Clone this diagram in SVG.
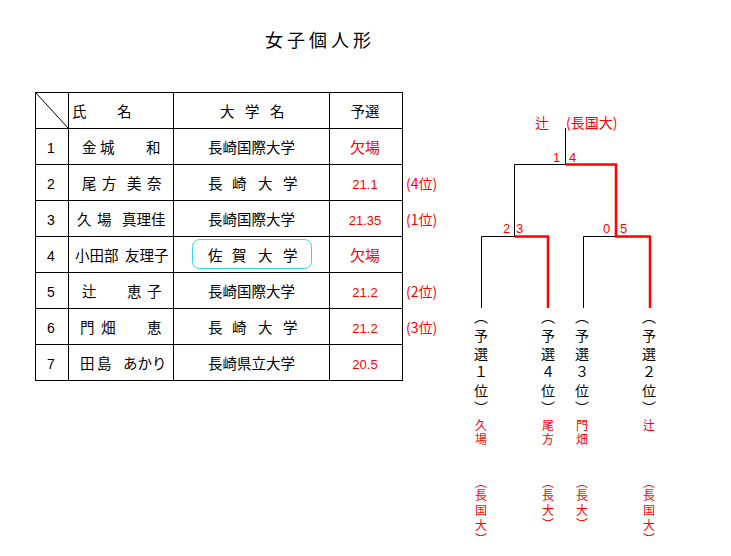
<svg xmlns="http://www.w3.org/2000/svg" width="731" height="556" viewBox="0 0 731 556">
<style>
.j{font-family:"Noto Sans CJK JP","Noto Sans CJK SC",sans-serif;font-size:14.5px;fill:#000}
.n{font-family:"Liberation Sans",Arial,sans-serif;font-size:14px;fill:#000;text-anchor:middle}
.s{font-family:"Liberation Sans",Arial,sans-serif;font-size:13px;fill:#f00;text-anchor:middle}
.r{fill:#f00}
.m{text-anchor:middle}
.grid line{stroke:#000;stroke-width:1}
.b{stroke:#000;stroke-width:1;fill:none}
.w{stroke:#f00;stroke-width:2.5;fill:none}
.v{font-family:"Noto Sans CJK JP","Noto Sans CJK SC",sans-serif;font-size:14px;text-anchor:middle}
.vr{font-family:"Noto Sans CJK JP","Noto Sans CJK SC",sans-serif;font-size:12px;text-anchor:middle;fill:#f00}
.bn{font-family:"Liberation Sans",Arial,sans-serif;font-size:13px;fill:#f00}
</style>
<rect width="731" height="556" fill="#fff"/>
<text id="title" class="j" x="265" y="47" style="font-size:18px;letter-spacing:4px">女子個人形</text>

<g id="table">
<g class="grid" shape-rendering="crispEdges">
<line x1="35" y1="92.5" x2="403" y2="92.5"/>
<line x1="35" y1="128.5" x2="403" y2="128.5"/>
<line x1="35" y1="164.5" x2="403" y2="164.5"/>
<line x1="35" y1="200.5" x2="403" y2="200.5"/>
<line x1="35" y1="236.5" x2="403" y2="236.5"/>
<line x1="35" y1="272.5" x2="403" y2="272.5"/>
<line x1="35" y1="308.5" x2="403" y2="308.5"/>
<line x1="35" y1="344.5" x2="403" y2="344.5"/>
<line x1="35" y1="380.5" x2="403" y2="380.5"/>
<line x1="35.5" y1="92" x2="35.5" y2="381"/>
<line x1="68.5" y1="92" x2="68.5" y2="381"/>
<line x1="173.5" y1="92" x2="173.5" y2="381"/>
<line x1="329.5" y1="92" x2="329.5" y2="381"/>
<line x1="402.5" y1="92" x2="402.5" y2="381"/>
</g>
<line x1="36" y1="93" x2="68" y2="128" stroke="#000" stroke-width="1"/>
<g id="header">
<text class="j" x="72 117" y="116.5">氏名</text>
<text class="j" x="220 245 270" y="116.5">大学名</text>
<text class="j m" x="365" y="116.5">予選</text>
</g>
<g id="row1">
<text class="n" x="51" y="152.5">1</text>
<text class="j" x="82 100 146" y="153">金城和</text>
<text class="j" x="208" y="153">長崎国際大学</text>
<text class="j m r" x="365" y="152.5" style="font-size:15px">欠場</text>
</g>
<g id="row2">
<text class="n" x="51" y="188.5">2</text>
<text class="j" x="82 102 127 147" y="189">尾方美奈</text>
<text class="j" x="208 232 258 283" y="189">長崎大学</text>
<text class="s" x="365" y="188.5">21.1</text>
<text class="j r" x="406" y="189" style="font-size:14px">(4位)</text>
</g>
<g id="row3">
<text class="n" x="51" y="224.5">3</text>
<text class="j" x="77 97 122" y="225">久場真理佳</text>
<text class="j" x="208" y="225">長崎国際大学</text>
<text class="s" x="365" y="224.5">21.35</text>
<text class="j r" x="406" y="225" style="font-size:14px">(1位)</text>
</g>
<g id="row4">
<text class="n" x="51" y="260.5">4</text>
<text class="j" x="75 89.5 104 125 139.5 154" y="261">小田部友理子</text>
<rect x="192.5" y="239.5" width="119" height="29" rx="7" fill="none" stroke="#2fd8ec" stroke-width="1"/>
<text class="j" x="208 232 258 283" y="261">佐賀大学</text>
<text class="j m r" x="365" y="260.5" style="font-size:15px">欠場</text>
</g>
<g id="row5">
<text class="n" x="51" y="296.5">5</text>
<text class="j" x="82 127 147" y="297">辻恵子</text>
<text class="j" x="208" y="297">長崎国際大学</text>
<text class="s" x="365" y="296.5">21.2</text>
<text class="j r" x="406" y="297" style="font-size:14px">(2位)</text>
</g>
<g id="row6">
<text class="n" x="51" y="332.5">6</text>
<text class="j" x="80 101 147" y="333">門畑恵</text>
<text class="j" x="208 232 258 283" y="333">長崎大学</text>
<text class="s" x="365" y="332.5">21.2</text>
<text class="j r" x="406" y="333" style="font-size:14px">(3位)</text>
</g>
<g id="row7">
<text class="n" x="51" y="368.5">7</text>
<text class="j" x="80 97 123" y="369">田島あかり</text>
<text class="j" x="208" y="369">長崎県立大学</text>
<text class="s" x="365" y="368.5">20.5</text>
</g>
</g>

<g id="connectors">
<path class="b" d="M565.5 128V164.5H514.5V236.5H481.5V308"/>
<path class="b" d="M514.5 236.5V220"/>
<path class="b" d="M616 236.5H583.5V308"/>
<path class="w" d="M565.5 164.5H616V236.5H650V308"/>
<path class="w" d="M514.5 236.5H548V308"/>
</g>
<g id="scores">
<text class="bn" x="553" y="161.5">1</text>
<text class="bn" x="569" y="161.5">4</text>
<text class="bn" x="503" y="232.5">2</text>
<text class="bn" x="516" y="232.5">3</text>
<text class="bn" x="603" y="232.5">0</text>
<text class="bn" x="620" y="232.5">5</text>
</g>
<g id="winner">
<text class="j r" x="535" y="127.5" style="font-size:14px">辻</text>
<text class="j r" x="566" y="127.5" style="font-size:14px">(長国大)</text>
</g>

<g id="entry1">
<text class="v" x="481 481 481 481 481 481" y="322 340.5 359 377 395.5 413">︵予選１位︶</text>
<text class="vr" x="481 481" y="429.5 443.5">久場</text>
<text class="vr" x="481 481 481 481 481" y="487 499.5 514.5 529.5 544">︵長国大︶</text>
</g>
<g id="entry4">
<text class="v" x="548 548 548 548 548 548" y="322 340.5 359 377 395.5 413">︵予選４位︶</text>
<text class="vr" x="548 548" y="429.5 443.5">尾方</text>
<text class="vr" x="548 548 548 548" y="487 499.5 514.5 529">︵長大︶</text>
</g>
<g id="entry3">
<text class="v" x="582 582 582 582 582 582" y="322 340.5 359 377 395.5 413">︵予選３位︶</text>
<text class="vr" x="582 582" y="429.5 443.5">門畑</text>
<text class="vr" x="582 582 582 582" y="487 499.5 514.5 529">︵長大︶</text>
</g>
<g id="entry2">
<text class="v" x="649 649 649 649 649 649" y="322 340.5 359 377 395.5 413">︵予選２位︶</text>
<text class="vr" x="649" y="429.5">辻</text>
<text class="vr" x="649 649 649 649 649" y="487 499.5 514.5 529.5 544">︵長国大︶</text>
</g>
</svg>
